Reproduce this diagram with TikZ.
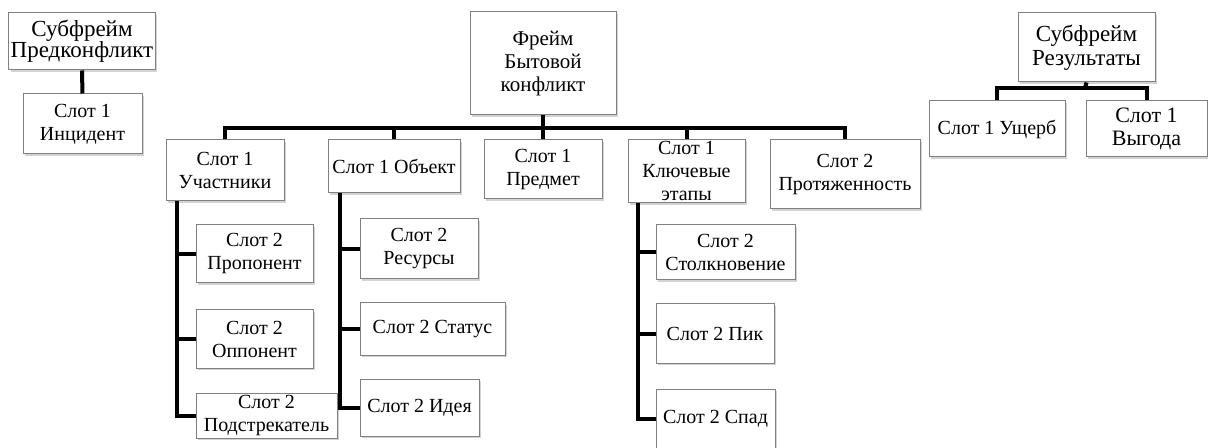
\documentclass[tikz,border=0pt]{standalone}
\usepackage{fontspec}
\setmainfont{Liberation Serif}
\usetikzlibrary{shadows}
\tikzset{
  slot/.style={draw=black!50, fill=white, line width=0.5pt, inner sep=1pt, align=center,
    font=\fontsize{10}{11.5}\selectfont,
    drop shadow={shadow xshift=1pt, shadow yshift=-1pt, opacity=0.35}},
  wh/.style 2 args={minimum width=#1*0.5pt, minimum height=#2*0.5pt},
  link/.style={line width=2pt, black},
}
\begin{document}
\begin{tikzpicture}[x=0.5pt, y=-0.5pt]
\useasboundingbox (0,0) rectangle (1208,448);
% subframes
\node[slot, wh={146}{57}, font=\fontsize{11.5}{10.5}\selectfont] (pre) at (82,41.5) {Субфрейм\\Предконфликт};
\node[slot, wh={119}{60}] (inc) at (82.5,124) {Слот 1\\Инцидент};
\node[slot, wh={137}{69}, font=\fontsize{11.5}{12}\selectfont] (res) at (1086.5,47.5) {Субфрейм\\Результаты};
\node[slot, wh={136}{56}] (dmg) at (997,129) {Слот 1 Ущерб};
\node[slot, wh={121}{56}, font=\fontsize{11}{11.5}\selectfont] (gain) at (1146.5,129) {Слот 1\\Выгода};
% main frame
\node[slot, wh={146}{103}, font=\fontsize{10.5}{11.5}\selectfont] (frame) at (543,63.5) {Фрейм\\Бытовой\\конфликт};
\node[slot, wh={118}{61}] (uch) at (225,170.5) {Слот 1\\Участники};
\node[slot, wh={132}{53}] (obj) at (394,166.5) {Слот 1 Объект};
\node[slot, wh={118}{59}] (pred) at (543,169.5) {Слот 1\\Предмет};
\node[slot, wh={117}{58}] (etap) at (686.5,171) {Слот 1\\Ключевые\\этапы};
\node[slot, wh={150}{69}] (prot) at (845,174.5) {Слот 2\\Протяженность};
% second level
\node[slot, wh={117}{58}] (prop) at (254.5,254) {Слот 2\\Пропонент};
\node[slot, wh={117}{58}] (opp) at (254.5,339) {Слот 2\\Оппонент};
\node[slot, wh={141}{45}] (inst) at (266.5,415.5) {Слот 2\\Подстрекатель};
\node[slot, wh={118}{60}] (rsrc) at (419,249) {Слот 2\\Ресурсы};
\node[slot, wh={145}{52}] (stat) at (432.5,329) {Слот 2 Статус};
\node[slot, wh={119}{57}] (idea) at (419.5,407.5) {Слот 2 Идея};
\node[slot, wh={139}{55}] (coll) at (725.5,252.5) {Слот 2\\Столкновение};
\node[slot, wh={118}{59}] (peak) at (715,333.5) {Слот 2 Пик};
\node[slot, wh={119}{59}] (fall) at (715.5,418.5) {Слот 2 Спад};
% links
\coordinate (bus) at (543,128);
\coordinate (rbus) at (1085,88);
\draw[link] (pre) -- (inc);
\draw[link] (frame) -- (pred);
\draw[link] (uch.north) |- (bus) -| (prot.north);
\draw[link] (obj.north) -- (obj.north |- bus);
\draw[link] (etap.north) -- (etap.north |- bus);
\draw[link] (res.south) -- (rbus);
\draw[link] (dmg.north) |- (rbus) -| (gain.north);
\draw[link] ([xshift=5.5pt]uch.south west) |- (prop.west);
\draw[link] ([xshift=5.5pt]uch.south west) |- (opp.west);
\draw[link] ([xshift=5.5pt]uch.south west) |- (inst.west);
\draw[link] ([xshift=6pt]obj.south west) |- (rsrc.west);
\draw[link] ([xshift=6pt]obj.south west) |- (stat.west);
\draw[link] ([xshift=6pt]obj.south west) |- (idea.west);
\draw[link] ([xshift=5pt]etap.south west) |- (coll.west);
\draw[link] ([xshift=5pt]etap.south west) |- (peak.west);
\draw[link] ([xshift=5pt]etap.south west) |- (fall.west);
\end{tikzpicture}
\end{document}
